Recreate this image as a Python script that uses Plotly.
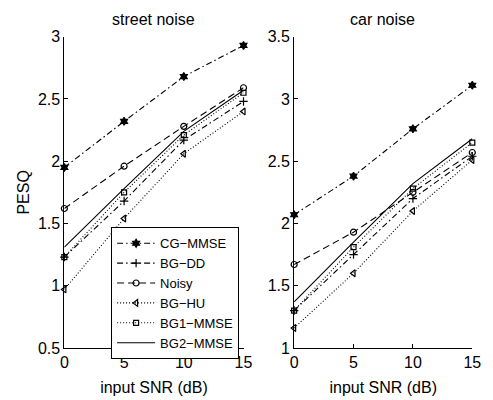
import plotly.graph_objects as go

snr = [0, 5, 10, 15]
series_names = ["CG−MMSE", "BG−DD", "Noisy", "BG−HU", "BG1−MMSE", "BG2−MMSE"]

street = {
    "CG−MMSE": [1.95, 2.32, 2.68, 2.93],
    "BG−DD": [1.23, 1.68, 2.17, 2.48],
    "Noisy": [1.62, 1.96, 2.28, 2.59],
    "BG−HU": [0.97, 1.54, 2.06, 2.40],
    "BG1−MMSE": [1.23, 1.75, 2.21, 2.55],
    "BG2−MMSE": [1.31, 1.78, 2.24, 2.57],
}
car = {
    "CG−MMSE": [2.07, 2.38, 2.76, 3.11],
    "BG−DD": [1.30, 1.75, 2.20, 2.54],
    "Noisy": [1.67, 1.93, 2.25, 2.57],
    "BG−HU": [1.16, 1.60, 2.10, 2.51],
    "BG1−MMSE": [1.30, 1.81, 2.28, 2.65],
    "BG2−MMSE": [1.37, 1.85, 2.32, 2.68],
}
titles = ["street noise", "car noise"]

styles = {
    "CG−MMSE": dict(dash="6px,3px,1.5px,3px", symbol="hexagram", size=6, mode="lines+markers"),
    "BG−DD": dict(dash="6px,3px,1.5px,3px", symbol="cross-thin-open", size=6, mode="lines+markers"),
    "Noisy": dict(dash="7px,4px", symbol="circle-open", size=6, mode="lines+markers"),
    "BG−HU": dict(dash="1px,2px", symbol="triangle-left-open", size=6, mode="lines+markers"),
    "BG1−MMSE": dict(dash="1px,2px", symbol="square-open", size=5, mode="lines+markers"),
    "BG2−MMSE": dict(dash="solid", symbol="circle", size=1, mode="lines"),
}

FONT = "Liberation Sans, Arial, sans-serif"
fig = go.Figure()

for i, data in enumerate([street, car]):
    xa = "x" if i == 0 else "x2"
    ya = "y" if i == 0 else "y2"
    for name in series_names:
        st = styles[name]
        fig.add_trace(go.Scatter(
            x=snr, y=data[name], name=name, mode=st["mode"],
            xaxis=xa, yaxis=ya, showlegend=(i == 0), cliponaxis=False,
            line=dict(color="black", width=1.1, dash=st["dash"]),
            marker=dict(symbol=st["symbol"], size=st["size"], color="black",
                        line=dict(color="black", width=1.2)),
        ))

axis_common = dict(
    showgrid=False, zeroline=False, showline=True, linecolor="black", linewidth=1,
    ticks="inside", ticklen=4, tickcolor="black", mirror=False,
    tickfont=dict(family=FONT, size=16, color="black"),
)

fig.update_layout(
    width=493, height=400,
    margin=dict(l=0, r=0, t=0, b=0),
    paper_bgcolor="white", plot_bgcolor="white",
    font=dict(family=FONT, size=16, color="black"),
    xaxis=dict(domain=[62/493, 246/493], range=[0, 15], tickvals=[0, 5, 10, 15],
               title=dict(text="input SNR (dB)", standoff=11, font=dict(size=16)), anchor="y",
               **axis_common),
    yaxis=dict(domain=[45/400, 370/400], range=[0.5, 3], tickvals=[0.5, 1, 1.5, 2, 2.5, 3],
               title=dict(text="PESQ", standoff=4, font=dict(size=16)), anchor="x",
               **axis_common),
    xaxis2=dict(domain=[298/493, 481/493], range=[0, 15], tickvals=[0, 5, 10, 15],
                title=dict(text="input SNR (dB)", standoff=11, font=dict(size=16)), anchor="y2",
                **axis_common),
    yaxis2=dict(domain=[45/400, 370/400], range=[1, 3.5], tickvals=[1, 1.5, 2, 2.5, 3, 3.5],
                anchor="x2", **axis_common),
    legend=dict(x=110/493, y=1 - 229/400, xanchor="left", yanchor="top",
                bgcolor="white", bordercolor="black", borderwidth=1,
                font=dict(family=FONT, size=13, color="black"),
                itemwidth=38, tracegroupgap=0),
    annotations=[
        dict(text=titles[0], x=154/493, y=1 - 12/400, xref="paper", yref="paper",
             showarrow=False, font=dict(family=FONT, size=16, color="black"),
             xanchor="center", yanchor="middle"),
        dict(text=titles[1], x=389/493, y=1 - 12/400, xref="paper", yref="paper",
             showarrow=False, font=dict(family=FONT, size=16, color="black"),
             xanchor="center", yanchor="middle"),
    ],
)

fig.write_html("out.html")
